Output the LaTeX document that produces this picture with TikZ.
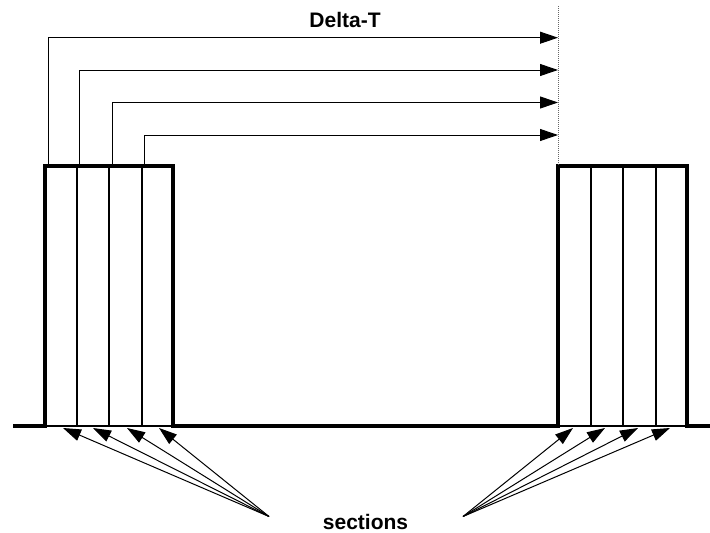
\documentclass[tikz,border=0pt]{standalone}
\usepackage{fontspec}
\setmainfont{Liberation Sans}
\usetikzlibrary{arrows.meta}
\begin{document}
\begin{tikzpicture}[x=1pt,y=-1pt,
  pulse/.style={line width=3.5pt, line join=miter},
  cell/.style={line width=2pt},
  cellbot/.style={line width=1.3pt},
  thinarrow/.style={line width=1pt, -{Triangle[length=18pt,width=12pt]}},
  dotline/.style={line width=0.8pt, black!60, dash pattern=on 1pt off 1pt},
  lbl/.style={font=\bfseries\fontsize{21}{25}\selectfont, anchor=base, inner sep=0pt}]
\useasboundingbox (0,0) rectangle (710,533);
% pulse outline coordinates
\coordinate (b0) at (13,426);
\coordinate (l1) at (45,426);
\coordinate (l2) at (45,166);
\coordinate (l3) at (173,166);
\coordinate (l4) at (173,426);
\coordinate (r1) at (558,426);
\coordinate (r2) at (558,166);
\coordinate (r3) at (687,166);
\coordinate (r4) at (687,426);
\coordinate (b1) at (710,426);
\draw[pulse] (b0) -- (l1) -- (l2) -- (l3) -- (l4) -- (r1) -- (r2) -- (r3) -- (r4) -- (b1);
% cell bottoms
\draw[cellbot] (l1) -- (l4);
\draw[cellbot] (r1) -- (r4);
% inner cell lines left
\foreach \x [count=\i] in {77,109,142} {
  \coordinate (lt\i) at (\x,166);
  \coordinate (lb\i) at (\x,426);
  \draw[cell] (lt\i) -- (lb\i);
}
% inner cell lines right
\foreach \x [count=\i] in {591,623,656} {
  \coordinate (rt\i) at (\x,166);
  \coordinate (rb\i) at (\x,426);
  \draw[cell] (rt\i) -- (rb\i);
}
% dotted reference line
\coordinate (d0) at (558,6);
\coordinate (d1) at (558,165);
\draw[dotline] (d0) -- (d1);
% delta-T arrows
\foreach \x/\y [count=\i] in {48/37.7,79/70,112/102.5,144/135} {
  \coordinate (s\i) at (\x,166);
  \coordinate (c\i) at (\x,\y);
  \coordinate (e\i) at (558,\y);
  \draw[thinarrow] (s\i) -- (c\i) -- (e\i);
}
\node[lbl] (dt) at (345,27) {Delta-T};
% sections arrows
\coordinate (pl) at (269,516.5);
\coordinate (pr) at (463,516.5);
\foreach \x [count=\i] in {63,93,127,159} {
  \coordinate (tl\i) at (\x,428);
  \draw[thinarrow] (pl) -- (tl\i);
}
\foreach \x [count=\i] in {573,605,638,670} {
  \coordinate (tr\i) at (\x,428);
  \draw[thinarrow] (pr) -- (tr\i);
}
\node[lbl] (sec) at (365.5,529.5) {sections};
\end{tikzpicture}
\end{document}
